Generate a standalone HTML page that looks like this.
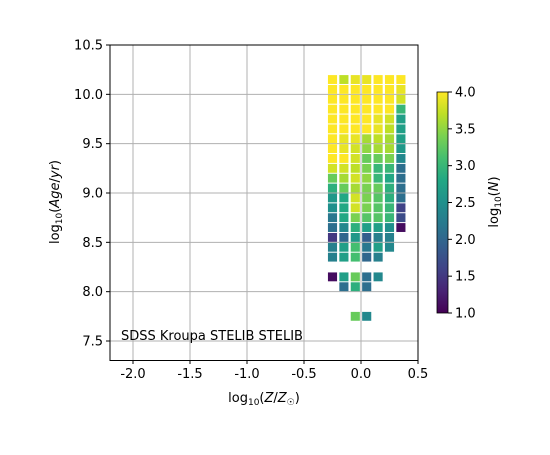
<!DOCTYPE html>
<html><head><meta charset="utf-8"><style>
body{margin:0;background:#fff}
svg text{font-family:"DejaVu Sans","Liberation Sans",sans-serif;fill:#000}
</style></head><body>
<svg id="c" width="550" height="450" xmlns="http://www.w3.org/2000/svg">
<rect width="550" height="450" fill="#fff"/>
<g id="grid"></g>
<g id="cells"></g>
<rect x="110" y="45" width="308" height="315.5" fill="none" stroke="#000" stroke-width="1"/>
<g id="axes"></g>
<text x="121" y="340" font-size="13">SDSS Kroupa STELIB STELIB</text>
<text x="264" y="402" font-size="13" text-anchor="middle">log<tspan font-size="9" dy="3">10</tspan><tspan dy="-3">(</tspan><tspan font-style="italic">Z</tspan>/<tspan font-style="italic">Z</tspan><tspan font-size="9" dy="3">☉</tspan><tspan dy="-3">)</tspan></text>
<text transform="translate(59,202) rotate(-90)" font-size="13" text-anchor="middle">log<tspan font-size="9" dy="3">10</tspan><tspan dy="-3">(</tspan><tspan font-style="italic">Age</tspan>/<tspan font-style="italic">yr</tspan>)</text>
<defs><linearGradient id="vg" x1="0" y1="1" x2="0" y2="0"></linearGradient></defs>
<rect id="cbar" x="437" y="92" width="11" height="221" fill="url(#vg)" stroke="#000" stroke-width="0.8"/>
<g id="cbticks"></g>
<text transform="translate(498,202) rotate(-90)" font-size="13" text-anchor="middle">log<tspan font-size="9" dy="3">10</tspan><tspan dy="-3">(</tspan><tspan font-style="italic">N</tspan>)</text>
</svg>
<script>
const metallicities=[-0.25,-0.15,-0.05,0.05,0.15,0.25,0.35];
const ages=[10.15,10.05,9.95,9.85,9.75,9.65,9.55,9.45,9.35,9.25,9.15,9.05,8.95,8.85,8.75,8.65,8.55,8.45,8.35,8.15,8.05,7.75];
const logN=[
[4,3.7,3.9,3.9,4,4,4],
[4,4,4,4,4,4,3.9],
[4,4,4,4,4,4,3.8],
[4,4,4,4,4,4,3.0],
[4,4,4,4,3.9,3.8,2.7],
[4,4,4,4,3.9,3.7,2.7],
[4,3.9,3.9,3.6,3.7,3.6,2.7],
[4,3.9,3.8,3.5,3.6,3.6,2.6],
[4,4,3.8,3.3,3.3,3.4,2.4],
[3.8,3.8,3.7,3.4,3.0,3.0,2.1],
[3.3,3.6,3.8,3.5,3.0,2.8,2.1],
[2.9,3.3,3.6,3.4,3.3,2.9,2.1],
[2.6,2.8,3.8,3.4,3.2,2.9,2.1],
[2.5,2.8,3.8,3.4,3.2,3.0,1.6],
[2.2,2.8,3.4,3.2,3.2,3.0,1.7],
[2.1,2.4,2.9,2.7,2.7,2.5,1.1],
[1.5,2.0,2.6,1.9,2.3,2.3,null],
[2.3,2.7,3.1,2.2,2.7,2.4,null],
[2.3,2.7,3.1,2.0,2.3,null,null],
[1.1,2.7,3.3,2.1,2.4,null,null],
[null,2.1,2.9,2.1,null,null,null],
[null,null,3.3,2.4,null,null,null]];
const xTicks=[-2.0,-1.5,-1.0,-0.5,0.0,0.5];
const yTicks=[7.5,8.0,8.5,9.0,9.5,10.0,10.5];
const cbTicks=[1.0,1.5,2.0,2.5,3.0,3.5,4.0];
const NS='http://www.w3.org/2000/svg';
const X=v=>133+(v+2)*114, Y=v=>45+(10.5-v)*98.667;
const CB=v=>313-(v-1)/3*221;
const vir=[[68,1,84],[72,35,116],[64,67,135],[52,94,141],[41,120,142],[32,144,140],[34,167,132],[68,190,112],[121,209,81],[189,223,38],[253,231,37]];
function col(v){let t=Math.max(0,Math.min(1,(v-1)/3))*10,i=Math.min(9,Math.floor(t)),f=t-i;const a=vir[i],b=vir[i+1];return 'rgb('+a.map((c,k)=>Math.round(c+(b[k]-c)*f)).join(',')+')';}
function mk(tag,at,par){const e=document.createElementNS(NS,tag);for(const k in at)e.setAttribute(k,at[k]);par.appendChild(e);return e;}
const grid=document.getElementById('grid'),axes=document.getElementById('axes'),cells=document.getElementById('cells');
xTicks.forEach(t=>{const x=X(t);
 const l=mk('line',{x1:x,x2:x,y1:45,y2:360.5,stroke:'#b0b0b0','stroke-width':1},grid);
 
 mk('line',{x1:x,x2:x,y1:360.5,y2:364,stroke:'#000'},axes);
 const tx=mk('text',{x:x,y:378,'font-size':13,'text-anchor':'middle'},axes);tx.textContent=t.toFixed(1);
 });
yTicks.forEach(t=>{const y=Y(t);
 const l=mk('line',{x1:110,x2:418,y1:y,y2:y,stroke:'#b0b0b0','stroke-width':1},grid);
 
 mk('line',{x1:106,x2:110,y1:y,y2:y,stroke:'#000'},axes);
 const tx=mk('text',{x:103,y:y+4.5,'font-size':13,'text-anchor':'end'},axes);tx.textContent=t.toFixed(1);
 });
ages.forEach((a,r)=>metallicities.forEach((z,c)=>{const v=logN[r][c];if(v==null)return;
 const w=0.08*114,h=0.09*98.667;
 const e=mk('rect',{x:X(z)-w/2,y:Y(a)-h/2,width:w,height:h,fill:col(v)},cells);
 
 }));
const g=document.getElementById('vg');
for(let i=0;i<=10;i++)mk('stop',{offset:(i*10)+'%','stop-color':'rgb('+vir[i].join(',')+')'},g);
const cbt=document.getElementById('cbticks');
cbTicks.forEach(t=>{const y=CB(t);mk('line',{x1:448,x2:452,y1:y,y2:y,stroke:'#000'},cbt);
 const tx=mk('text',{x:455,y:y+4.5,'font-size':13},cbt);tx.textContent=t.toFixed(1);
 });
</script>
</body></html>
